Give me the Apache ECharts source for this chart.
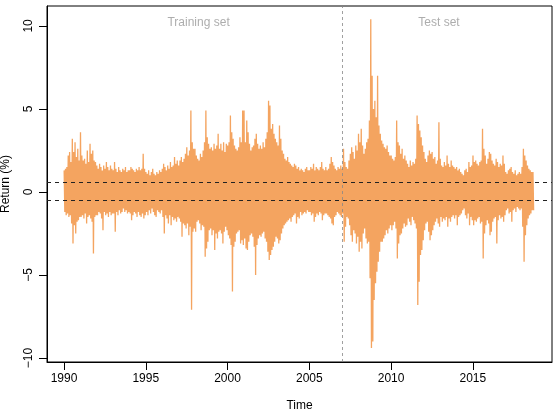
<!DOCTYPE html>
<html>
<head>
<meta charset="utf-8">
<script src="https://cdn.jsdelivr.net/npm/echarts@6/dist/echarts.min.js"></script>
<style>
  html, body { margin: 0; padding: 0; background: #fff; }
  #chart { width: 555px; height: 413px; }
</style>
</head>
<body>
<div id="chart"></div>
<script>
// daily returns, summarised per month as the highest and lowest value
const startYear = 1990
const monthlyHigh = [
  1.3, 1.4, 1.5, 2.2, 2.4, 1.8, 3.2, 2.4, 3.0, 2.1, 2.6, 1.9, // 1990
  3.6, 2.2, 1.9, 2.0, 1.7, 2.5, 1.8, 2.9, 2.3, 2.5, 1.9, 1.8, // 1991
  1.6, 1.4, 1.7, 1.5, 1.3, 1.6, 1.4, 1.8, 1.5, 1.3, 1.6, 1.4, // 1992
  1.3, 1.8, 1.4, 1.2, 1.5, 1.3, 1.2, 1.4, 1.3, 1.5, 1.2, 1.3, // 1993
  1.3, 1.5, 1.4, 1.3, 1.2, 1.4, 1.3, 1.5, 1.3, 1.4, 2.3, 1.4, // 1994
  1.2, 1.1, 1.3, 1.0, 1.2, 1.4, 1.1, 1.0, 1.2, 1.1, 1.3, 1.2, // 1995
  1.4, 1.7, 1.5, 1.3, 1.6, 1.4, 1.8, 1.5, 1.6, 2.1, 1.7, 1.9, // 1996
  1.6, 1.9, 2.1, 1.8, 2.0, 2.3, 2.7, 2.2, 2.5, 4.9, 3.0, 2.6, // 1997
  2.6, 2.2, 2.0, 1.9, 2.3, 2.1, 2.5, 3.0, 4.9, 3.3, 2.9, 2.6, // 1998
  2.7, 2.5, 2.9, 2.6, 2.8, 3.5, 2.6, 2.9, 2.5, 3.0, 2.4, 2.9, // 1999
  2.8, 3.0, 4.6, 3.6, 3.2, 2.8, 2.6, 2.5, 2.7, 3.3, 3.0, 4.9, // 2000
  4.9, 3.0, 4.3, 3.6, 2.9, 2.5, 2.7, 2.8, 3.2, 3.5, 2.9, 2.6, // 2001
  2.8, 2.6, 3.0, 2.7, 3.2, 3.6, 5.5, 5.2, 3.8, 4.1, 3.5, 3.2, // 2002
  3.0, 2.8, 4.0, 3.2, 2.5, 2.3, 2.0, 1.9, 2.1, 1.8, 1.7, 1.6, // 2003
  1.5, 1.7, 1.6, 1.4, 1.5, 1.3, 1.4, 1.3, 1.2, 1.4, 1.5, 1.3, // 2004
  1.3, 1.5, 1.4, 1.7, 1.3, 1.5, 1.4, 1.3, 1.5, 1.8, 1.4, 1.3, // 2005
  1.5, 1.3, 1.4, 1.7, 2.1, 1.8, 1.6, 1.4, 1.3, 1.5, 1.4, 1.6, // 2006
  1.4, 2.6, 1.8, 1.5, 1.4, 1.9, 2.3, 2.7, 2.4, 2.0, 2.8, 2.5, // 2007
  3.5, 3.0, 3.8, 2.8, 2.3, 2.6, 3.0, 3.2, 4.3, 10.4, 7.0, 5.0, // 2008
  5.5, 4.5, 7.0, 4.0, 3.5, 3.1, 2.9, 2.7, 2.6, 2.8, 2.4, 2.2, // 2009
  2.2, 2.0, 1.9, 2.1, 4.3, 3.0, 2.8, 2.3, 2.6, 2.0, 2.2, 1.9, // 2010
  1.7, 1.5, 1.9, 1.6, 1.8, 1.7, 2.0, 4.6, 4.1, 3.7, 3.3, 2.8, // 2011
  2.4, 2.0, 1.8, 2.2, 2.5, 2.3, 2.4, 2.0, 2.1, 1.7, 1.9, 4.2, // 2012
  2.0, 1.6, 1.5, 1.8, 1.6, 2.2, 1.7, 1.5, 1.9, 1.6, 1.5, 1.4, // 2013
  1.5, 1.3, 1.4, 1.2, 1.1, 1.0, 1.3, 1.4, 1.2, 1.8, 1.5, 1.6, // 2014
  2.2, 1.8, 1.9, 1.7, 1.6, 1.8, 1.9, 3.8, 2.6, 2.2, 1.7, 2.0, // 2015
  2.4, 2.3, 1.9, 1.7, 1.6, 2.0, 1.8, 1.5, 1.7, 1.6, 2.2, 1.7, // 2016
  1.2, 1.1, 1.3, 1.4, 1.5, 1.2, 1.1, 1.3, 1.0, 1.1, 1.2, 1.1, // 2017
  1.5, 2.6, 2.2, 1.9, 1.6, 1.4, 1.3, 1.2, 1.2                 // 2018
]
const monthlyLow = [
  -1.2, -1.4, -1.3, -1.5, -1.4, -1.9, -3.1, -2.0, -2.5, -1.8, -1.7, -1.5, // 1990
  -1.5, -1.4, -1.6, -1.3, -1.9, -1.5, -1.4, -1.6, -1.8, -3.7, -1.5, -1.4, // 1991
  -1.4, -1.2, -1.3, -1.6, -2.3, -1.2, -1.4, -1.3, -1.5, -1.2, -1.4, -1.3, // 1992
  -1.3, -2.4, -1.2, -1.4, -1.1, -1.3, -1.2, -1.0, -1.2, -1.1, -1.3, -1.2, // 1993
  -1.3, -1.7, -1.4, -1.2, -1.3, -1.5, -1.2, -1.4, -1.5, -1.3, -1.6, -1.4, // 1994
  -1.2, -1.4, -1.1, -1.3, -1.0, -1.2, -1.4, -1.5, -1.1, -1.2, -1.3, -1.1, // 1995
  -1.5, -2.5, -1.4, -1.6, -1.9, -1.4, -2.0, -1.5, -1.7, -1.6, -1.8, -1.5, // 1996
  -1.6, -1.8, -2.7, -1.9, -2.0, -2.2, -1.9, -2.6, -2.1, -7.1, -2.4, -2.2, // 1997
  -2.4, -1.8, -1.7, -1.9, -2.3, -2.0, -2.1, -3.9, -3.4, -3.0, -2.3, -2.2, // 1998
  -2.6, -2.3, -3.5, -2.5, -2.8, -2.4, -2.3, -2.5, -3.1, -2.4, -2.1, -2.3, // 1999
  -2.6, -2.8, -3.2, -6.0, -3.3, -3.0, -2.5, -2.4, -2.3, -3.1, -2.9, -3.2, // 2000
  -2.8, -3.4, -3.5, -3.0, -2.6, -2.5, -2.7, -3.3, -5.0, -3.2, -2.8, -2.6, // 2001
  -2.7, -2.5, -2.4, -2.8, -3.0, -3.6, -4.1, -3.8, -3.5, -3.3, -3.0, -2.7, // 2002
  -2.8, -3.1, -2.9, -2.5, -2.2, -2.0, -1.9, -1.8, -1.7, -1.6, -1.8, -1.5, // 2003
  -1.4, -1.3, -1.9, -1.5, -1.6, -1.2, -1.4, -1.3, -1.2, -1.3, -1.1, -1.2, // 2004
  -1.2, -1.4, -1.3, -1.8, -1.5, -1.3, -1.4, -1.2, -1.3, -1.7, -1.4, -1.3, // 2005
  -1.3, -1.4, -1.5, -1.6, -1.9, -2.0, -1.5, -1.4, -1.2, -1.3, -1.4, -1.5, // 2006
  -1.3, -3.0, -2.1, -1.5, -1.6, -2.0, -2.6, -3.0, -2.3, -2.5, -3.1, -2.7, // 2007
  -3.6, -3.0, -3.4, -2.5, -2.2, -2.8, -3.1, -3.0, -5.2, -9.4, -9.0, -6.5, // 2008
  -5.5, -4.8, -4.2, -3.6, -3.0, -3.0, -2.8, -2.6, -2.3, -2.5, -2.2, -2.0, // 2009
  -2.3, -2.0, -1.8, -2.2, -4.0, -3.1, -2.6, -2.5, -2.2, -1.9, -2.1, -2.0, // 2010
  -1.6, -1.8, -2.0, -1.5, -1.7, -1.9, -2.2, -6.8, -5.4, -3.8, -3.5, -2.9, // 2011
  -2.3, -1.9, -1.8, -2.4, -2.9, -2.6, -2.3, -2.0, -1.8, -1.6, -1.9, -2.1, // 2012
  -1.5, -1.8, -1.6, -1.7, -1.5, -2.1, -1.6, -1.8, -1.5, -1.4, -1.6, -1.4, // 2013
  -2.0, -1.5, -1.4, -1.3, -1.1, -1.0, -1.4, -1.6, -1.3, -2.0, -1.5, -1.7, // 2014
  -2.0, -1.7, -1.8, -1.6, -1.5, -1.9, -1.8, -4.0, -2.5, -2.0, -1.7, -1.9, // 2015
  -2.6, -2.4, -1.8, -1.6, -1.5, -3.1, -1.7, -1.4, -1.6, -1.5, -1.8, -1.4, // 2016
  -1.1, -1.0, -1.3, -1.2, -1.8, -1.1, -1.0, -1.2, -0.9, -1.0, -1.1, -1.0, // 2017
  -2.1, -4.2, -2.6, -2.0, -1.6, -1.4, -1.3, -1.1, -1.1                    // 2018
]
const yearTicks = [1990, 1995, 2000, 2005, 2010, 2015]
const returnTicks = [-10, -5, 0, 5, 10]
const thresholds = [0.56, -0.5]
const splitYear = 2007
const setLabels = [
  { name: 'Training set', year: 1998.23 },
  { name: 'Test set', year: 2012.93 }
]

// zigzag through each month's high and low
const returns = []
monthlyHigh.forEach((hi, i) => {
  const t = startYear + i / 12
  returns.push([t + 0.1 / 12, hi])
  returns.push([t + 0.6 / 12, monthlyLow[i]])
})

const chart = echarts.init(document.getElementById('chart'), null, { renderer: 'canvas' })

const grid = { left: 47, right: 3, top: 6, bottom: 51 }
const xMin = 1988.96, xMax = 2019.84
const yMin = -10.24, yMax = 11.2
const font = 'Liberation Sans, Arial, Helvetica, sans-serif'

chart.setOption({
  animation: false,
  backgroundColor: '#fff',
  grid: {
    ...grid,
    outerBoundsMode: 'none',
    containLabel: false,
    show: true,
    borderColor: '#000',
    borderWidth: 1,
    backgroundColor: 'transparent'
  },
  xAxis: {
    type: 'value',
    min: xMin,
    max: xMax,
    splitLine: { show: false },
    axisLine: { show: true, onZero: false, lineStyle: { color: '#000' } },
    axisTick: { show: true, length: 8, customValues: yearTicks, lineStyle: { color: '#000' } },
    axisLabel: {
      customValues: yearTicks,
      color: '#000',
      fontSize: 12,
      fontFamily: font,
      margin: 11,
      formatter: v => String(v)
    },
    name: 'Time',
    nameLocation: 'middle',
    nameGap: 38,
    nameTextStyle: { color: '#000', fontSize: 12, fontFamily: font }
  },
  yAxis: {
    type: 'value',
    min: yMin,
    max: yMax,
    splitLine: { show: false },
    axisLine: { show: true, onZero: false, lineStyle: { color: '#000' } },
    axisTick: { show: true, length: 8, customValues: returnTicks, lineStyle: { color: '#000' } },
    axisLabel: {
      customValues: returnTicks,
      rotate: 90,
      color: '#000',
      fontSize: 12,
      fontFamily: font,
      margin: 12,
      formatter: v => String(v).replace('-', '\u2212')
    }
  },
  graphic: [
    {
      type: 'text',
      x: 6, y: 184,
      rotation: Math.PI / 2,
      style: { text: 'Return (%)', fill: '#000', font: '12px ' + font, textAlign: 'center', textVerticalAlign: 'middle' }
    }
  ],
  series: [
    {
      type: 'line',
      data: returns,
      showSymbol: false,
      symbol: 'none',
      lineStyle: { color: '#F4A460', width: 1.3 },
      clip: true,
      silent: true,
      z: 2
    },
    {
      type: 'line',
      data: [],
      silent: true,
      z: 3,
      markLine: {
        symbol: 'none',
        silent: true,
        label: { show: false },
        data: thresholds.map(v => ({ yAxis: v, lineStyle: { color: '#222', type: [4, 4], width: 1 } }))
          .concat([{ xAxis: splitYear, lineStyle: { color: '#888', type: [3, 3], width: 0.8 } }])
      }
    },
    {
      type: 'scatter',
      silent: true,
      symbolSize: 0,
      data: setLabels.map(d => ({ value: [d.year, 10.2], name: d.name })),
      label: {
        show: true,
        position: 'inside',
        formatter: p => p.name,
        color: '#999',
        fontSize: 12,
        fontFamily: font
      }
    }
  ]
})
</script>
</body>
</html>
